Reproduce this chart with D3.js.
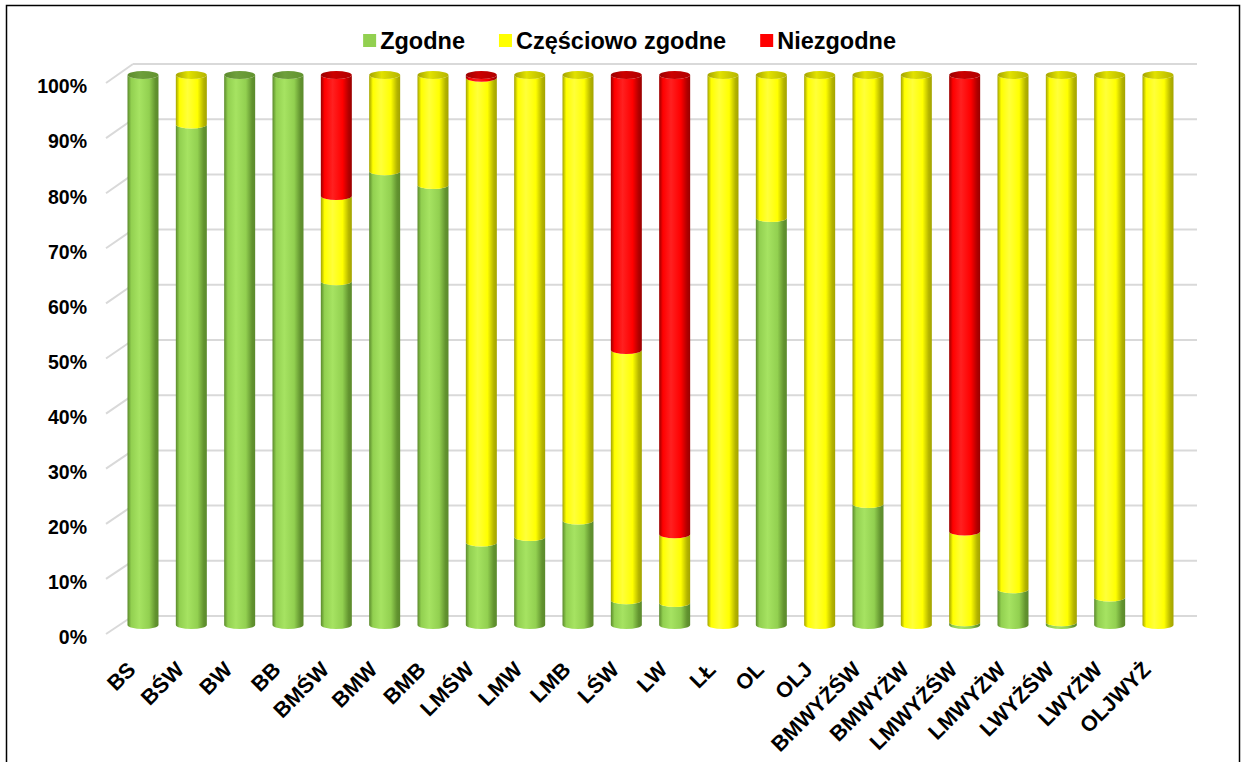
<!DOCTYPE html>
<head>
  <meta charset="utf-8">
  <script src="https://d3js.org/d3.v7.min.js"></script>
  <style>
  body,html {background:white;font-family:"Liberation Sans",Arial,sans-serif;margin:0;}
  .lbl {font-weight:bold;fill:#000;}
</style>
</head>
<body>
<svg></svg>
<script>

  const width = 1242;
  const height = 762;

  // categories and % shares
  const categories = ["BS","BŚW","BW","BB","BMŚW","BMW","BMB","LMŚW","LMW","LMB","LŚW","LW","LŁ","OL","OLJ",
    "BMWYŻŚW","BMWYŻW","LMWYŻŚW","LMWYŻW","LWYŻŚW","LWYŻW","OLJWYŻ"];
  const zgodne     = [100, 91, 100, 100, 62.5, 82.5, 80, 15, 16, 19, 4.5, 4, 0, 74, 0, 22, 0, 0.5, 6.5, 0.5, 5, 0];
  const czesciowo  = [0, 9, 0, 0, 15.5, 17.5, 20, 84.5, 84, 81, 45.5, 12.5, 100, 26, 100, 78, 100, 16.5, 93.5, 99.5, 95, 100];
  const niezgodne  = [0, 0, 0, 0, 22, 0, 0, 0.5, 0, 0, 50, 83.5, 0, 0, 0, 0, 0, 83, 0, 0, 0, 0];
  const seriesNames = ["Zgodne", "Częściowo zgodne", "Niezgodne"];
  const ticks = [0,10,20,30,40,50,60,70,80,90,100];

  const colors = {
    "Zgodne":           {edge:"#5b8a2c", hi:"#a6e362", base:"#92d050", dark:"#62932f", top:"#6e9f3c"},
    "Częściowo zgodne": {edge:"#a3a300", hi:"#ffff3a", base:"#ffff00", dark:"#b4b400", top:"#e2e200"},
    "Niezgodne":        {edge:"#990000", hi:"#ff2020", base:"#ff0000", dark:"#b00000", top:"#cc0000"}
  };

  const rows = categories.map((c,i)=>({cat:c, "Zgodne":zgodne[i], "Częściowo zgodne":czesciowo[i], "Niezgodne":niezgodne[i]}));
  const stacked = d3.stack().keys(seriesNames)(rows);

  const xPos = d3.scalePoint().domain(categories).range([143,1158]);
  const yBar = d3.scaleLinear().domain([0,100]).range([625,75]);    // bar ellipse centres
  const yBack = d3.scaleLinear().domain([0,100]).range([616,64]);   // back wall grid
  const yFront = d3.scaleLinear().domain([0,100]).range([635,84]);  // front edge / labels
  const RX = 15.5, RY = 4;

  let svg = d3.select("svg")
    .attr("width", width)
    .attr("height", height);

  // gradients
  let defs = svg.append("defs");
  seriesNames.forEach((s,k)=>{
    const c = colors[s];
    let g = defs.append("linearGradient").attr("id","side"+k).attr("x1","0").attr("x2","1").attr("y1","0").attr("y2","0");
    [[0,c.edge],[0.12,c.base],[0.38,c.hi],[0.7,c.base],[0.9,c.dark],[1,c.edge]].forEach(st=>{
      g.append("stop").attr("offset",st[0]).attr("stop-color",st[1]);
    });
    let t = defs.append("linearGradient").attr("id","top"+k).attr("x1","0").attr("x2","1").attr("y1","0").attr("y2","0");
    [[0,c.edge],[0.4,c.top],[1,c.dark]].forEach(st=>{
      t.append("stop").attr("offset",st[0]).attr("stop-color",st[1]);
    });
  });

  // frame
  svg.append("rect")
    .attr("x",6.5).attr("y",5.5).attr("width",1233).attr("height",800)
    .attr("fill","none").attr("stroke","#000").attr("stroke-width",1.5);

  // back wall grid + left diagonals
  let grid = svg.append("g").attr("stroke","#d9d9d9").attr("stroke-width",2).attr("fill","none");
  grid.selectAll(".h").data(ticks).enter().append("line")
    .attr("x1",133).attr("x2",1197)
    .attr("y1",d=>yBack(d)).attr("y2",d=>yBack(d));
  grid.selectAll(".d").data(ticks).enter().append("line")
    .attr("x1",106).attr("x2",133)
    .attr("y1",d=>yFront(d)-1).attr("y2",d=>yBack(d));

  // y labels
  let yAxis = svg.append("g")
    .attr("transform","translate(87,0)")
    .call(d3.axisLeft(yFront).tickValues(ticks).tickFormat(d=>d+"%").tickSize(0).tickPadding(0));
  yAxis.select(".domain").remove();
  yAxis.selectAll("text").attr("class","lbl").style("font-size","19.5px")
    .style("font-family","'Liberation Sans',Arial,sans-serif").attr("dy","0.35em").attr("y",2);

  // cylinders
  function segPath(cx, v0, v1) {
    const x0 = cx-RX, x1 = cx+RX, ya = yBar(v0), yb = yBar(v1);
    return `M${x0},${yb} A${RX},${RY} 0 0 0 ${x1},${yb} L${x1},${ya} A${RX},${RY} 0 0 1 ${x0},${ya} Z`;
  }

  stacked.forEach((layer,k)=>{
    let g = svg.append("g").attr("class","series");
    g.selectAll("path")
      .data(layer.filter(d=>d[1]-d[0] > 0))
      .enter()
      .append("path")
      .attr("d", d=>segPath(xPos(d.data.cat), d[0], d[1]))
      .attr("fill", `url(#side${k})`);
  });

  // top caps: colour of the topmost non-zero segment
  svg.append("g").selectAll("ellipse")
    .data(rows)
    .enter()
    .append("ellipse")
    .attr("cx", d=>xPos(d.cat))
    .attr("cy", yBar(100))
    .attr("rx", RX).attr("ry", RY)
    .attr("fill", d=>{
      let k = seriesNames.length-1;
      while(k>0 && !(d[seriesNames[k]]>0)) k--;
      return `url(#top${k})`;
    });

  // x labels
  svg.append("g").selectAll("text")
    .data(categories)
    .enter()
    .append("text")
    .attr("class","lbl")
    .style("font-size","21.5px")
    .attr("text-anchor","end")
    .attr("transform", d=>`translate(${xPos(d)-6},671) rotate(-45)`)
    .text(d=>d);

  // legend, right end of last label at x=896
  let legend = svg.append("g").attr("transform","translate(0,41)");
  let items = legend.selectAll("g").data(seriesNames).enter().append("g");
  items.append("rect").attr("width",13).attr("height",13).attr("y",-7)
    .attr("fill",d=>colors[d].base);
  items.append("text").attr("class","lbl").style("font-size","23.5px")
    .attr("x",17).attr("dy","0.35em").text(d=>d);
  let widths = [];
  items.each(function(){ widths.push(17 + d3.select(this).select("text").node().getComputedTextLength()); });
  const gap = 34;
  const total = d3.sum(widths) + gap*(widths.length-1);
  let xx = 896 - total;
  items.attr("transform",(d,i)=>{ const t = `translate(${xx},0)`; xx += widths[i]+gap; return t; });

</script>
</body>
